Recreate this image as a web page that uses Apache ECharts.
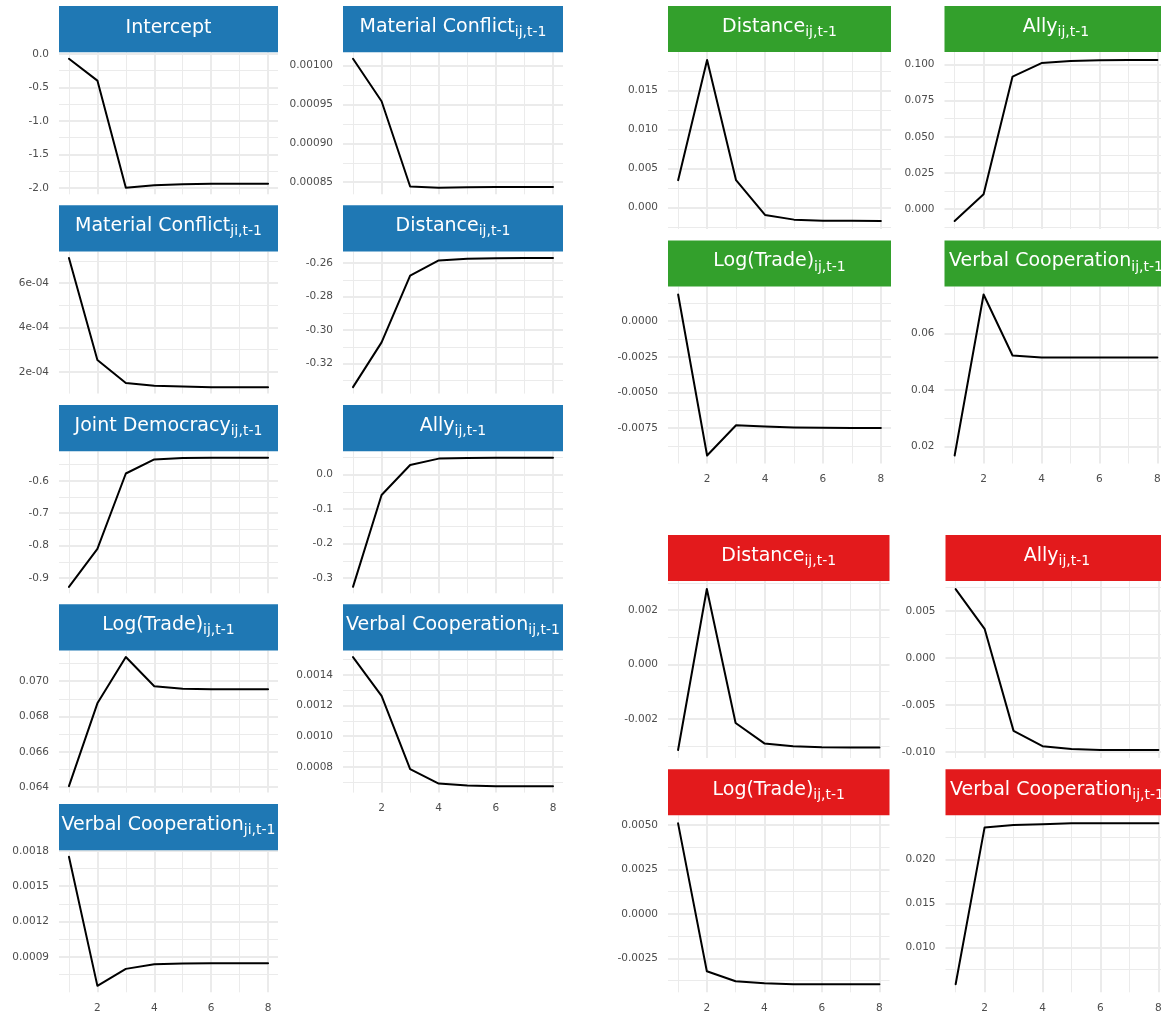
<!DOCTYPE html>
<html><head><meta charset="utf-8">
<script src="https://cdn.jsdelivr.net/npm/echarts@6/dist/echarts.min.js"></script>
<style>html,body{margin:0;padding:0;background:#fff}#c{width:1161px;height:1013px}</style>
</head><body><div id="c"></div>
<script>
const horizons = [1, 2, 3, 4, 5, 6, 7, 8];
const xTicks = [2, 4, 6, 8];
const xTickLabels = ['2', '4', '6', '8'];

// ---- Blue group ----
const interceptValues = [-0.074, -0.40, -2.00, -1.96, -1.945, -1.94, -1.94, -1.94];
const interceptTicks = [-2, -1.5, -1, -0.5, 0];
const interceptTickLabels = ['-2.0', '-1.5', '-1.0', '-0.5', '0.0'];

const matConfIjValues = [0.0010086, 0.000954, 0.0008445, 0.0008428, 0.0008435, 0.000844, 0.000844, 0.000844];
const matConfIjTicks = [0.00085, 0.0009, 0.00095, 0.001];
const matConfIjTickLabels = ['0.00085', '0.00090', '0.00095', '0.00100'];

const matConfJiValues = [0.000713, 0.000253, 0.000150, 0.000137, 0.000134, 0.000131, 0.000131, 0.000131];
const matConfJiTicks = [0.0002, 0.0004, 0.0006];
const matConfJiTickLabels = ['2e-04', '4e-04', '6e-04'];

const distBlueValues = [-0.334, -0.3073, -0.2675, -0.2584, -0.2574, -0.2571, -0.257, -0.257];
const distBlueTicks = [-0.32, -0.30, -0.28, -0.26];
const distBlueTickLabels = ['-0.32', '-0.30', '-0.28', '-0.26'];

const jointDemValues = [-0.927, -0.81, -0.5775, -0.534, -0.530, -0.529, -0.529, -0.529];
const jointDemTicks = [-0.9, -0.8, -0.7, -0.6];
const jointDemTickLabels = ['-0.9', '-0.8', '-0.7', '-0.6'];

const allyBlueValues = [-0.325, -0.059, 0.028, 0.0465, 0.0485, 0.049, 0.049, 0.049];
const allyBlueTicks = [-0.3, -0.2, -0.1, 0];
const allyBlueTickLabels = ['-0.3', '-0.2', '-0.1', '0.0'];

const tradeBlueValues = [0.06406, 0.06875, 0.07137, 0.06972, 0.06957, 0.06955, 0.06955, 0.06955];
const tradeBlueTicks = [0.064, 0.066, 0.068, 0.070];
const tradeBlueTickLabels = ['0.064', '0.066', '0.068', '0.070'];

const verbalIjBlueValues = [0.001516, 0.001263, 0.000785, 0.000691, 0.000678, 0.000674, 0.000674, 0.000674];
const verbalIjBlueTicks = [0.0008, 0.0010, 0.0012, 0.0014];
const verbalIjBlueTickLabels = ['0.0008', '0.0010', '0.0012', '0.0014'];

const verbalJiValues = [0.00175, 0.000654, 0.000798, 0.000838, 0.000844, 0.000845, 0.000845, 0.000845];
const verbalJiTicks = [0.0009, 0.0012, 0.0015, 0.0018];
const verbalJiTickLabels = ['0.0009', '0.0012', '0.0015', '0.0018'];

// ---- Green group ----
const distGreenValues = [0.0035, 0.01895, 0.0035, -0.00098, -0.00158, -0.00171, -0.00173, -0.00175];
const distGreenTicks = [0, 0.005, 0.010, 0.015];
const distGreenTickLabels = ['0.000', '0.005', '0.010', '0.015'];

const allyGreenValues = [-0.0081, 0.0104, 0.0916, 0.1009, 0.1023, 0.1028, 0.103, 0.103];
const allyGreenTicks = [0, 0.025, 0.05, 0.075, 0.1];
const allyGreenTickLabels = ['0.000', '0.025', '0.050', '0.075', '0.100'];

const tradeGreenValues = [0.00187, -0.00942, -0.0073, -0.00738, -0.00745, -0.00748, -0.0075, -0.0075];
const tradeGreenTicks = [-0.0075, -0.005, -0.0025, 0];
const tradeGreenTickLabels = ['-0.0075', '-0.0050', '-0.0025', '0.0000'];

const verbalGreenValues = [0.0168, 0.0738, 0.0522, 0.0515, 0.0515, 0.0515, 0.0515, 0.0515];
const verbalGreenTicks = [0.02, 0.04, 0.06];
const verbalGreenTickLabels = ['0.02', '0.04', '0.06'];

// ---- Red group ----
const distRedValues = [-0.00314, 0.00277, -0.00215, -0.0029, -0.0030, -0.00304, -0.00305, -0.00305];
const distRedTicks = [-0.002, 0, 0.002];
const distRedTickLabels = ['-0.002', '0.000', '0.002'];

const allyRedValues = [0.00734, 0.0031, -0.00777, -0.0094, -0.0097, -0.0098, -0.0098, -0.0098];
const allyRedTicks = [-0.01, -0.005, 0, 0.005];
const allyRedTickLabels = ['-0.010', '-0.005', '0.000', '0.005'];

const tradeRedValues = [0.0051, -0.00323, -0.00379, -0.0039, -0.00396, -0.00396, -0.00396, -0.00396];
const tradeRedTicks = [-0.0025, 0, 0.0025, 0.005];
const tradeRedTickLabels = ['-0.0025', '0.0000', '0.0025', '0.0050'];

const verbalRedValues = [0.0058, 0.02364, 0.0239, 0.0240, 0.0241, 0.0241, 0.0241, 0.0241];
const verbalRedTicks = [0.010, 0.015, 0.020];
const verbalRedTickLabels = ['0.010', '0.015', '0.020'];

// ---- Layout (positions / styles) ----
const BLUE = '#1f78b4', GREEN = '#33a02c', RED = '#e31a1c';
const blueCols = [{l: 59, w: 219}, {l: 343, w: 220}];
const blueRows = [6, 205.3, 405, 604.3, 804];
const greenCols = [{l: 668, w: 223}, {l: 944.5, w: 223}];
const greenRows = [6, 240.5];
const redCols = [{l: 668, w: 221.5}, {l: 945.5, w: 223}];
const redRows = [535, 769.3];

const panels = [
  {main: 'Intercept', sub: '', vals: interceptValues, ticks: interceptTicks, labels: interceptTickLabels, col: blueCols[0], top: blueRows[0], sh: 46.3, ph: 142, color: BLUE},
  {main: 'Material Conflict', sub: 'ji,t-1', vals: matConfJiValues, ticks: matConfJiTicks, labels: matConfJiTickLabels, col: blueCols[0], top: blueRows[1], sh: 46.3, ph: 142, color: BLUE},
  {main: 'Joint Democracy', sub: 'ij,t-1', vals: jointDemValues, ticks: jointDemTicks, labels: jointDemTickLabels, col: blueCols[0], top: blueRows[2], sh: 46.3, ph: 142, color: BLUE},
  {main: 'Log(Trade)', sub: 'ij,t-1', vals: tradeBlueValues, ticks: tradeBlueTicks, labels: tradeBlueTickLabels, col: blueCols[0], top: blueRows[3], sh: 46.3, ph: 142, color: BLUE},
  {main: 'Verbal Cooperation', sub: 'ji,t-1', vals: verbalJiValues, ticks: verbalJiTicks, labels: verbalJiTickLabels, col: blueCols[0], top: blueRows[4], sh: 46.3, ph: 142, color: BLUE, showX: true},
  {main: 'Material Conflict', sub: 'ij,t-1', vals: matConfIjValues, ticks: matConfIjTicks, labels: matConfIjTickLabels, col: blueCols[1], top: blueRows[0], sh: 46.3, ph: 142, color: BLUE},
  {main: 'Distance', sub: 'ij,t-1', vals: distBlueValues, ticks: distBlueTicks, labels: distBlueTickLabels, col: blueCols[1], top: blueRows[1], sh: 46.3, ph: 142, color: BLUE},
  {main: 'Ally', sub: 'ij,t-1', vals: allyBlueValues, ticks: allyBlueTicks, labels: allyBlueTickLabels, col: blueCols[1], top: blueRows[2], sh: 46.3, ph: 142, color: BLUE},
  {main: 'Verbal Cooperation', sub: 'ij,t-1', vals: verbalIjBlueValues, ticks: verbalIjBlueTicks, labels: verbalIjBlueTickLabels, col: blueCols[1], top: blueRows[3], sh: 46.3, ph: 142, color: BLUE, showX: true},

  {main: 'Distance', sub: 'ij,t-1', vals: distGreenValues, ticks: distGreenTicks, labels: distGreenTickLabels, col: greenCols[0], top: greenRows[0], sh: 46, ph: 177, color: GREEN},
  {main: 'Ally', sub: 'ij,t-1', vals: allyGreenValues, ticks: allyGreenTicks, labels: allyGreenTickLabels, col: greenCols[1], top: greenRows[0], sh: 46, ph: 177, color: GREEN},
  {main: 'Log(Trade)', sub: 'ij,t-1', vals: tradeGreenValues, ticks: tradeGreenTicks, labels: tradeGreenTickLabels, col: greenCols[0], top: greenRows[1], sh: 46, ph: 177, color: GREEN, showX: true},
  {main: 'Verbal Cooperation', sub: 'ij,t-1', vals: verbalGreenValues, ticks: verbalGreenTicks, labels: verbalGreenTickLabels, col: greenCols[1], top: greenRows[1], sh: 46, ph: 177, color: GREEN, showX: true},

  {main: 'Distance', sub: 'ij,t-1', vals: distRedValues, ticks: distRedTicks, labels: distRedTickLabels, col: redCols[0], top: redRows[0], sh: 46, ph: 177, color: RED},
  {main: 'Ally', sub: 'ij,t-1', vals: allyRedValues, ticks: allyRedTicks, labels: allyRedTickLabels, col: redCols[1], top: redRows[0], sh: 46, ph: 177, color: RED},
  {main: 'Log(Trade)', sub: 'ij,t-1', vals: tradeRedValues, ticks: tradeRedTicks, labels: tradeRedTickLabels, col: redCols[0], top: redRows[1], sh: 46, ph: 177, color: RED, showX: true},
  {main: 'Verbal Cooperation', sub: 'ij,t-1', vals: verbalRedValues, ticks: verbalRedTicks, labels: verbalRedTickLabels, col: redCols[1], top: redRows[1], sh: 46, ph: 177, color: RED, showX: true}
];

function minorBreaks(ticks, lo, hi) {
  const step = ticks[1] - ticks[0];
  const out = [];
  for (let k = -1; k < ticks.length; k++) {
    const v = ticks[0] + (k + 0.5) * step;
    if (v >= lo && v <= hi) out.push(v);
  }
  return out;
}

const FONT = 'DejaVu Sans';
const GRIDC = '#ebebeb';
const LABC = '#4d4d4d';
const grid = [], xAxis = [], yAxis = [], series = [], graphic = [];
const xLo = 0.65, xHi = 8.35;

panels.forEach((p, i) => {
  const lo0 = Math.min(...p.vals), hi0 = Math.max(...p.vals);
  const pad = (hi0 - lo0) * 0.05;
  const lo = lo0 - pad, hi = hi0 + pad;
  const plotTop = p.top + p.sh;
  grid.push({left: p.col.l, top: plotTop, width: p.col.w, height: p.ph, containLabel: false, outerBoundsMode: 'none'});

  xAxis.push({
    type: 'value', gridIndex: i, min: xLo, max: xHi,
    axisLine: {show: false}, axisTick: {show: false, customValues: xTicks},
    axisLabel: {show: !!p.showX, customValues: xTicks, color: LABC, fontSize: 10.5, fontFamily: FONT, margin: 10,
      formatter: v => { const k = xTicks.findIndex(t => Math.abs(t - v) < 1e-9); return k >= 0 ? xTickLabels[k] : ''; }},
    splitLine: {show: true, lineStyle: {color: GRIDC, width: 2}}
  });
  xAxis.push({
    type: 'value', gridIndex: i, min: xLo, max: xHi, position: 'bottom',
    axisLine: {show: false}, axisTick: {show: false, customValues: [1, 3, 5, 7]},
    axisLabel: {show: false},
    splitLine: {show: true, lineStyle: {color: GRIDC, width: 1}}
  });
  const ticks = p.ticks, labels = p.labels;
  yAxis.push({
    type: 'value', gridIndex: i, min: lo, max: hi,
    axisLine: {show: false}, axisTick: {show: false, customValues: ticks},
    axisLabel: {customValues: ticks, color: LABC, fontSize: 10.5, fontFamily: FONT, margin: 10,
      formatter: v => { let best = 0, bd = Infinity; ticks.forEach((t, k) => { const d = Math.abs(t - v); if (d < bd) { bd = d; best = k; } }); return labels[best]; }},
    splitLine: {show: true, lineStyle: {color: GRIDC, width: 2}}
  });
  yAxis.push({
    type: 'value', gridIndex: i, min: lo, max: hi, position: 'left',
    axisLine: {show: false}, axisTick: {show: false, customValues: minorBreaks(ticks, lo, hi)},
    axisLabel: {show: false},
    splitLine: {show: true, lineStyle: {color: GRIDC, width: 1}}
  });
  series.push({
    type: 'line', xAxisIndex: 2 * i, yAxisIndex: 2 * i,
    data: horizons.map((h, k) => [h, p.vals[k]]),
    showSymbol: false, symbol: 'none', silent: true,
    lineStyle: {color: '#000', width: 2, join: 'round', cap: 'round'},
    z: 5
  });

  graphic.push({type: 'rect', shape: {x: p.col.l, y: p.top, width: p.col.w, height: p.sh}, style: {fill: p.color}, z: 10, silent: true});
  const txt = p.sub ? `{m|${p.main}}{s|${p.sub}}` : `{m|${p.main}}`;
  graphic.push({
    type: 'text', x: p.col.l + p.col.w / 2, y: p.top + (p.sub ? 21 : 22.3), z: 11, silent: true,
    style: {
      text: txt, align: 'center', verticalAlign: 'middle', fill: '#fff',
      rich: {
        m: {fontSize: 19, fontFamily: FONT, fill: '#fff', lineHeight: 25},
        s: {fontSize: 14, fontFamily: FONT, fill: '#fff', lineHeight: 14, height: 14, verticalAlign: 'bottom'}
      }
    }
  });
});

const chart = echarts.init(document.getElementById('c'), null, {renderer: 'canvas'});
chart.setOption({
  animation: false,
  backgroundColor: '#fff',
  grid, xAxis, yAxis, series, graphic
});
</script>
</body></html>
